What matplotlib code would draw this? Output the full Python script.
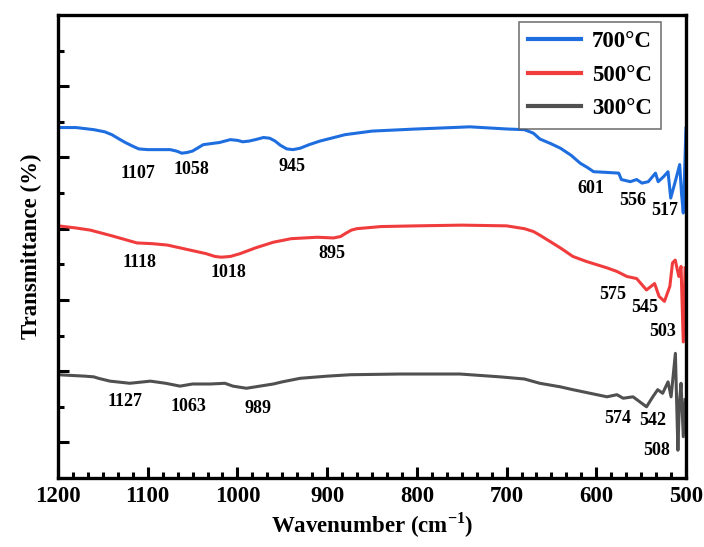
import numpy as np
import matplotlib
matplotlib.use('Agg')
import matplotlib.pyplot as plt
from matplotlib.ticker import FixedLocator, MultipleLocator, AutoMinorLocator, NullFormatter

plt.rcParams['font.family'] = 'Liberation Serif'
plt.rcParams['font.weight'] = 'bold'
plt.rcParams['mathtext.fontset'] = 'custom'
plt.rcParams['mathtext.rm'] = 'Liberation Serif:bold'
plt.rcParams['mathtext.bf'] = 'Liberation Serif:bold'

# FTIR spectra (wavenumber in cm-1, transmittance in arbitrary offset units)
wn_700 = [1200, 1180, 1160, 1148, 1140, 1132, 1125, 1117, 1110, 1100, 1090, 1075, 1068, 1062, 1056,
          1050, 1038, 1020, 1008, 1000, 994, 987, 980, 971, 964, 958, 952, 945, 938, 930, 920, 908,
          880, 850, 800, 760, 741, 700, 680, 670, 663, 650, 640, 628, 618, 610, 603, 588,
          575, 572, 562, 555, 549, 542, 534, 531, 525, 520, 517, 512, 507, 505, 503, 500]
t_700 = [49.2, 49.2, 48.9, 48.6, 48.2, 47.6, 47.1, 46.6, 46.2, 46.1, 46.1, 46.1, 45.9, 45.6, 45.7,
         45.9, 46.8, 47.1, 47.5, 47.4, 47.2, 47.3, 47.5, 47.8, 47.7, 47.3, 46.7, 46.2, 46.1, 46.3, 46.8, 47.3,
         48.2, 48.7, 49.0, 49.2, 49.3, 49.0, 48.9, 48.4, 47.6, 46.9, 46.3, 45.3, 44.2, 43.6, 43.0, 42.9,
         42.8, 41.9, 41.6, 41.9, 41.4, 41.6, 42.8, 41.6, 42.3, 43.0, 39.3, 41.6, 44.0, 40.0, 37.2, 49.1]

wn_500 = [1200, 1180, 1164, 1140, 1112, 1095, 1078, 1053, 1035, 1025, 1018, 1008, 997, 980, 960,
          940, 911, 893, 885, 880, 873, 867, 840, 800, 750, 700, 680, 670, 663, 640, 626, 611,
          588, 577, 566, 555, 544, 535, 530, 524, 518, 515, 512, 508, 505.5, 503, 501]
t_500 = [35.4, 35.1, 34.8, 34.0, 33.0, 32.9, 32.7, 32.0, 31.5, 31.1, 31.0, 31.1, 31.5, 32.3, 33.1,
         33.6, 33.8, 33.7, 33.9, 34.3, 34.8, 35.0, 35.3, 35.4, 35.5, 35.4, 35.0, 34.6, 34.1, 32.3, 31.1, 30.4,
         29.5, 29.0, 28.3, 28.0, 26.4, 27.3, 25.5, 24.8, 26.9, 30.2, 30.6, 28.3, 29.7, 19.1, 29.5]

wn_300 = [1200, 1170, 1160, 1155, 1142, 1120, 1097, 1080, 1064, 1050, 1030, 1014, 1005, 990, 975,
          960, 950, 930, 900, 874, 819, 752, 707, 680, 663, 640, 626, 607, 588, 577, 570, 559,
          544, 537, 531.5, 526, 520, 516.6, 511.8, 509, 507.4, 505.5, 503, 501]
t_300 = [14.5, 14.3, 14.2, 14.0, 13.6, 13.3, 13.6, 13.3, 12.9, 13.2, 13.2, 13.3, 12.9, 12.6, 12.9,
         13.2, 13.5, 14.0, 14.3, 14.5, 14.6, 14.6, 14.2, 13.9, 13.3, 12.8, 12.4, 11.9, 11.4, 11.7, 11.2, 11.4,
         10.0, 11.4, 12.4, 11.9, 13.5, 11.4, 17.5, 3.9, 10.5, 13.3, 5.8, 11.0]

series_labels = ['700°C', '500°C', '300°C']
series_colors = ['#1f6ee0', '#f03c3c', '#505050']

# peak labels: text, wavenumber, y
peak_text = ['1107', '1058', '945', '601', '556', '517',
             '1118', '1018', '895', '575', '545', '503',
             '1127', '1063', '989', '574', '542', '508']
peak_x = [1110.8, 1051.7, 939.1, 605.8, 559.0, 523.3,
          1108.6, 1010.5, 894.5, 581.3, 545.6, 525.5,
          1125.3, 1055.1, 977.0, 575.7, 536.7, 532.2]
peak_y = [42.8, 43.3, 43.7, 40.6, 38.9, 37.6,
          30.2, 28.8, 31.5, 25.7, 23.9, 20.5,
          10.7, 10.1, 9.8, 8.3, 8.1, 3.9]

fig = plt.figure(figsize=(7.04, 5.47), dpi=100)
ax = fig.add_axes([0.0824, 0.1261, 0.892, 0.8465])

for wn, t, lab, c in zip([wn_700, wn_500, wn_300], [t_700, t_500, t_300], series_labels, series_colors):
    ax.plot(wn, t, color=c, lw=2.2, label=lab, solid_joinstyle='round')

for s, x, y in zip(peak_text, peak_x, peak_y):
    ax.text(x, y, s, fontsize=13, fontweight='bold', ha='center', va='center')

ax.set_xlim(1200, 500)
ax.set_ylim(0, 65)
ax.xaxis.set_major_locator(MultipleLocator(100))
ax.xaxis.set_minor_locator(AutoMinorLocator(6))
ax.yaxis.set_major_locator(FixedLocator([5, 15, 25, 35, 45, 55]))
ax.yaxis.set_minor_locator(FixedLocator([10, 20, 30, 40, 50, 60]))
ax.yaxis.set_major_formatter(NullFormatter())
ax.tick_params(which='major', direction='in', length=8, width=2.2, labelsize=16.5)
ax.tick_params(which='minor', direction='in', length=4, width=2.2)
ax.tick_params(axis='x', pad=6)
for sp in ax.spines.values():
    sp.set_linewidth(2.4)

ax.set_xlabel(r'Wavenumber (cm$^{-1}$)', fontsize=16.5, fontweight='bold', labelpad=2)
ax.set_ylabel('Transmittance (%)', fontsize=16.5, fontweight='bold', labelpad=8)

leg = ax.legend(loc='upper right', bbox_to_anchor=(661 / 704, 1 - 22 / 547),
                bbox_transform=fig.transFigure, borderaxespad=0, fancybox=False,
                edgecolor='#555555', fontsize=16.5, handlelength=2.3, labelspacing=0.55,
                handletextpad=0.5, borderpad=0.4)
leg.get_frame().set_linewidth(1.2)
for line in leg.get_lines():
    line.set_linewidth(3)

fig.savefig('out.png', dpi=100)
